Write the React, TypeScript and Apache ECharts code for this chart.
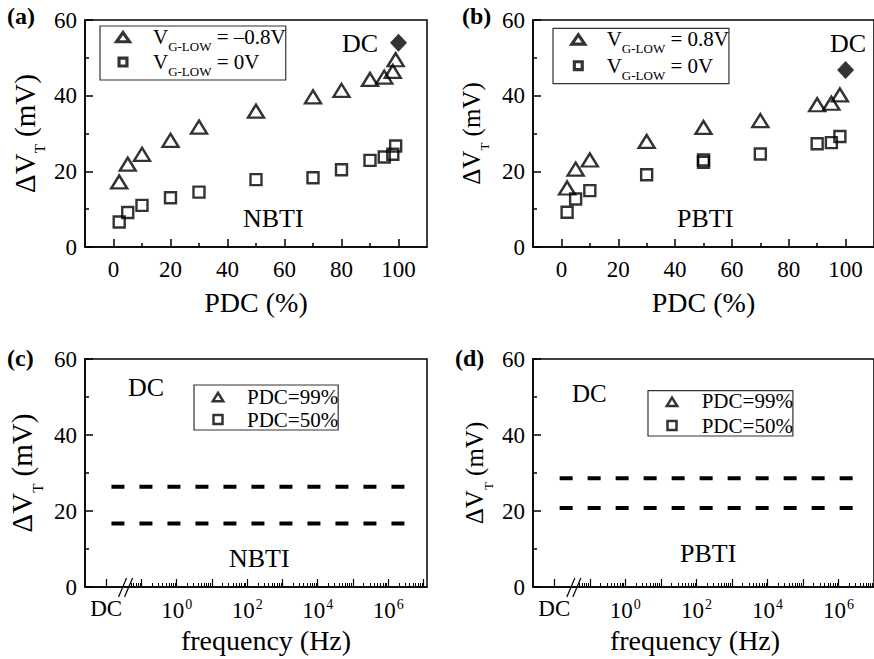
import React, { useEffect, useRef } from 'react';
import * as echarts from 'echarts';

const FONT = "'Liberation Serif', 'Times New Roman', Times, serif";
const TXT = '#000';

// ---- Panel (a): NBTI vs PDC ----
const pdcA = [2, 5, 10, 20, 30, 50, 70, 80, 90, 95, 98, 99];
const nbtiNeg08 = [17.2, 21.9, 24.5, 28.2, 31.7, 35.9, 39.7, 41.4, 44.3, 44.9, 46.4, 49.5];
const nbti0 = [6.6, 9.1, 11.0, 13.0, 14.5, 17.8, 18.3, 20.4, 22.9, 23.8, 24.5, 26.7];
const nbtiDC = [100, 54];

// ---- Panel (b): PBTI vs PDC ----
const pdcBTri = [2, 5, 10, 30, 50, 70, 90, 95, 98];
const pbti08 = [15.6, 20.6, 23.0, 27.9, 31.6, 33.4, 37.6, 38.0, 40.2];
const pdcBSq = [2, 5, 10, 30, 50, 50, 70, 90, 95, 98];
const pbti0 = [9.2, 12.7, 14.9, 19.1, 22.4, 23.0, 24.6, 27.3, 27.6, 29.2];
const pbtiDC = [100, 46.8];

// ---- Panels (c),(d): vs frequency; x = log10(f), DC placed at -2 ----
const freqSpan = [-1.85, 6.5];
const nbtiFreq99 = 26.4;
const nbtiFreq50 = 16.7;
const pbtiFreq99 = 28.6;
const pbtiFreq50 = 20.8;
const breakAt = -1.45;

// ---- tick lists ----
const pdcTicks = [0, 20, 40, 60, 80, 100];
const pdcMinorTicks = [10, 30, 50, 70, 90];
const freqLabelTicks = [-2, 0, 2, 4, 6];
const freqMajorTicks = [-2, -1, 0, 1, 2, 3, 4, 5, 6, 7];

const legendText: Record<string, string> = {
  aTri: '{f|V}{s|G-LOW}{m| = –0.8V}',
  aSq: '{f|V}{s|G-LOW}{m| = 0V}',
  bTri: '{f|V}{s|G-LOW}{m| = 0.8V}',
  bSq: '{f|V}{s|G-LOW}{m| = 0V}',
  cTri: '{f|PDC=99%}',
  cSq: '{f|PDC=50%}',
  dTri: '{f|PDC=99%}',
  dSq: '{f|PDC=50%}',
};

// hollow legend icons drawn as filled outlines (outer shape minus inner hole)
const TRI_ICON = 'path://M9,0L18,13L0,13Z M9,5.27L5.72,10L12.28,10Z';
const SQ_ICON = 'path://M0,0L0,0 M18,13L18,13 M3.75,1.25L14.25,1.25L14.25,11.75L3.75,11.75Z M6.75,4.25L6.75,8.75L11.25,8.75L11.25,4.25Z';
const TRI_ICON_SMALL = 'path://M7.5,0L15,12L0,12Z M7.5,4.72L4.51,9.5L10.49,9.5Z';
const SQ_ICON_SMALL = 'path://M0,0L0,0 M15,12L15,12 M1.75,0.25L13.25,0.25L13.25,11.75L1.75,11.75Z M4.25,2.75L4.25,9.25L10.75,9.25L10.75,2.75Z';

function logMinor(max: number) {
  const out: number[] = [];
  for (let d = -2; d <= 7; d++) {
    for (let k = 2; k <= 9; k++) {
      const u = d + Math.log10(k);
      if (u > -1.35 && u < max) out.push(+u.toFixed(4));
    }
  }
  return out;
}

const axisLine = { show: true, onZero: false, lineStyle: { color: '#000', width: 1.5 } };

function yAxis(gi: number, nameSize: number, subSize: number, lineH: number, nameGap: number) {
  return {
    type: 'value', gridIndex: gi, min: 0, max: 60, interval: 20,
    name: '{d|ΔV}{s|T}{d| (mV)}', nameLocation: 'middle', nameGap,
    nameTextStyle: {
      rich: {
        d: { fontFamily: FONT, fontSize: nameSize, color: TXT, lineHeight: lineH },
        s: { fontFamily: FONT, fontSize: subSize, color: TXT, lineHeight: subSize, verticalAlign: 'bottom' },
      },
    },
    axisLine,
    axisTick: { show: true, inside: true, length: 8, lineStyle: { color: '#000', width: 1.5 } },
    minorTick: { show: true, splitNumber: 2, length: 4, lineStyle: { color: '#000', width: 1.5 } },
    splitLine: { show: false },
    axisLabel: { fontFamily: FONT, fontSize: 23, color: TXT, margin: 8 },
  };
}

function pdcAxes(gi: number) {
  return [
    {
      type: 'value', gridIndex: gi, min: -10, max: 110, position: 'bottom',
      name: 'PDC (%)', nameLocation: 'middle', nameGap: 41,
      nameTextStyle: { fontFamily: FONT, fontSize: 28, color: TXT },
      axisLine,
      axisTick: { show: true, inside: true, length: 8, customValues: pdcTicks, lineStyle: { color: '#000', width: 1.5 } },
      axisLabel: { customValues: pdcTicks, fontFamily: FONT, fontSize: 23, color: TXT, margin: 11 },
      splitLine: { show: false },
    },
    {
      type: 'value', gridIndex: gi, min: -10, max: 110, position: 'bottom', offset: 0,
      axisLine: { show: false },
      axisTick: { show: true, inside: true, length: 4, customValues: pdcMinorTicks, lineStyle: { color: '#000', width: 1.5 } },
      axisLabel: { show: false },
      splitLine: { show: false },
    },
  ];
}

function freqAxes(gi: number, max: number, namePad: number[]) {
  return [
    {
      type: 'value', gridIndex: gi, min: -2.6, max, position: 'bottom',
      name: 'frequency (Hz)', nameLocation: 'middle', nameGap: 39,
      nameTextStyle: { fontFamily: FONT, fontSize: 28, color: TXT, padding: namePad },
      axisLine,
      axisTick: { show: true, inside: true, length: 8, customValues: freqMajorTicks, lineStyle: { color: '#000', width: 1.2 } },
      axisLabel: {
        customValues: freqLabelTicks, margin: 10,
        formatter: (v: number) => (v === -2 ? '{m|DC}' : `{m|10}{s|${v}}`),
        rich: {
          m: { fontFamily: FONT, fontSize: 23, color: TXT },
          s: { fontFamily: FONT, fontSize: 14, color: TXT, padding: [0, 0, 12, 1] },
        },
      },
      splitLine: { show: false },
    },
    {
      type: 'value', gridIndex: gi, min: -2.6, max, position: 'bottom', offset: 0,
      axisLine: { show: false },
      axisTick: { show: true, inside: true, length: 4, customValues: logMinor(max), lineStyle: { color: '#000', width: 1 } },
      axisLabel: { show: false },
      splitLine: { show: false },
    },
  ];
}

function legend(left: number, top: number, names: string[], icons: string[], pad: number[], gap: number, iw: number, ih: number, fs: number, textPad: number, lineH: number) {
  return {
    orient: 'vertical', left, top, padding: pad, itemGap: gap, itemWidth: iw, itemHeight: ih,
    borderColor: '#333', borderWidth: 1.2, backgroundColor: '#fff', selectedMode: false,
    data: [
      { name: names[0], icon: icons[0], itemStyle: { color: '#000', borderWidth: 0 } },
      { name: names[1], icon: icons[1], itemStyle: { color: '#000', borderWidth: 0 } },
    ],
    formatter: (n: string) => legendText[n],
    textStyle: {
      rich: {
        f: { fontFamily: FONT, fontSize: fs, color: TXT, padding: [0, 0, 0, textPad], lineHeight: lineH },
        m: { fontFamily: FONT, fontSize: fs, color: TXT, lineHeight: lineH },
        s: { fontFamily: FONT, fontSize: 13, color: TXT, lineHeight: 14, verticalAlign: 'bottom' },
      },
    },
  };
}

const hollow = { color: 'transparent', borderColor: '#000', borderWidth: 2.4 };
const zip = (xs: number[], ys: number[]) => xs.map((x, i) => [x, ys[i]]);

function breakSeries(xi: number, yi: number) {
  return {
    type: 'custom', xAxisIndex: xi, yAxisIndex: yi, silent: true, clip: false, z: 10,
    data: [[breakAt, 0]],
    renderItem: (_p: any, api: any) => {
      const p = api.coord([api.value(0), api.value(1)]);
      const mk = (dx: number) => ({
        type: 'line',
        shape: { x1: p[0] + dx - 4, y1: p[1] + 10, x2: p[0] + dx + 4, y2: p[1] - 9 },
        style: { stroke: '#000', lineWidth: 1.2 },
      });
      return { type: 'group', children: [mk(-3), mk(3)] };
    },
  };
}

function dashed(xi: number, yi: number, name: string, y: number) {
  return {
    name, type: 'line', xAxisIndex: xi, yAxisIndex: yi, data: freqSpan.map((x) => [x, y]),
    symbol: 'none', showSymbol: false, silent: true,
    lineStyle: { color: '#000', width: 4, type: [13, 15] },
  };
}

function label(text: string, x: number, y: number, size: number, bold = false) {
  return {
    type: 'text', x, y, silent: true,
    style: { text, fontFamily: FONT, fontSize: size, fontWeight: bold ? 'bold' : 'normal', fill: TXT, align: 'left', verticalAlign: 'middle' },
  };
}

function buildOption() {
  return {
    animation: false,
    backgroundColor: '#fff',
    grid: [
      { left: 85, top: 20, width: 342, height: 227, show: true, borderColor: '#000', borderWidth: 1.5 },
      { left: 533, top: 20, width: 341, height: 227, show: true, borderColor: '#000', borderWidth: 1.5 },
      { left: 85, top: 359, width: 342, height: 228, show: true, borderColor: '#000', borderWidth: 1.5 },
      { left: 533, top: 359, width: 341, height: 228, show: true, borderColor: '#000', borderWidth: 1.5 },
    ],
    xAxis: [
      ...pdcAxes(0),
      ...pdcAxes(1),
      ...freqAxes(2, 7.1, [0, 0, 0, 20]),
      ...freqAxes(3, 7.0, [0, 17, 0, 0]),
    ],
    yAxis: [
      yAxis(0, 29, 15, 44, 38),
      yAxis(1, 25, 13, 40, 42),
      yAxis(2, 29, 15, 46, 40),
      yAxis(3, 25, 13, 41, 38),
    ],
    legend: [
      legend(100, 26, ['aTri', 'aSq'], [TRI_ICON, SQ_ICON], [0, 0, 2, 13.5], -1, 19, 14, 21, 15.5, 32),
      legend(553, 28.3, ['bTri', 'bSq'], [TRI_ICON, SQ_ICON], [0, 0, 2, 15.8], 0.4, 19, 14, 21, 13.9, 32),
      legend(194, 385, ['cTri', 'cSq'], [TRI_ICON_SMALL, SQ_ICON_SMALL], [1, 0, 0, 16.5], 2, 15, 12, 21, 16.5, 24),
      legend(648, 390.7, ['dTri', 'dSq'], [TRI_ICON_SMALL, SQ_ICON_SMALL], [0, 0, 0, 16.5], 3.3, 15, 12, 21, 17.2, 24),
    ],
    series: [
      { name: 'aTri', type: 'scatter', xAxisIndex: 0, yAxisIndex: 0, data: zip(pdcA, nbtiNeg08), symbol: 'triangle', symbolSize: [16, 13], itemStyle: hollow },
      { name: 'aSq', type: 'scatter', xAxisIndex: 0, yAxisIndex: 0, data: zip(pdcA, nbti0), symbol: 'rect', symbolSize: 11, itemStyle: hollow },
      { name: 'aDC', type: 'scatter', xAxisIndex: 0, yAxisIndex: 0, data: [nbtiDC], symbol: 'diamond', symbolSize: [17, 18], itemStyle: { color: '#000' } },
      { name: 'bTri', type: 'scatter', xAxisIndex: 2, yAxisIndex: 1, data: zip(pdcBTri, pbti08), symbol: 'triangle', symbolSize: [16, 13], itemStyle: hollow },
      { name: 'bSq', type: 'scatter', xAxisIndex: 2, yAxisIndex: 1, data: zip(pdcBSq, pbti0), symbol: 'rect', symbolSize: 11, itemStyle: hollow },
      { name: 'bDC', type: 'scatter', xAxisIndex: 2, yAxisIndex: 1, data: [pbtiDC], symbol: 'diamond', symbolSize: [17, 18], itemStyle: { color: '#000' } },
      { name: 'cTri', type: 'scatter', xAxisIndex: 4, yAxisIndex: 2, data: [], symbol: 'triangle', itemStyle: hollow },
      { name: 'cSq', type: 'scatter', xAxisIndex: 4, yAxisIndex: 2, data: [], symbol: 'rect', itemStyle: hollow },
      dashed(4, 2, 'c99', nbtiFreq99),
      dashed(4, 2, 'c50', nbtiFreq50),
      breakSeries(4, 2),
      { name: 'dTri', type: 'scatter', xAxisIndex: 6, yAxisIndex: 3, data: [], symbol: 'triangle', itemStyle: hollow },
      { name: 'dSq', type: 'scatter', xAxisIndex: 6, yAxisIndex: 3, data: [], symbol: 'rect', itemStyle: hollow },
      dashed(6, 3, 'd99', pbtiFreq99),
      dashed(6, 3, 'd50', pbtiFreq50),
      breakSeries(6, 3),
    ],
    graphic: [
      label('(a)', 7, 16, 24, true),
      label('(b)', 462, 16, 24, true),
      label('(c)', 7, 358, 24, true),
      label('(d)', 455, 358, 24, true),
      label('DC', 342, 43, 26),
      label('NBTI', 243, 218, 26),
      label('DC', 830, 43, 26),
      label('PBTI', 677, 218, 26),
      label('DC', 128, 387, 26),
      label('NBTI', 229, 558, 26),
      label('DC', 572, 393, 25),
      label('PBTI', 680, 553, 26),
    ],
  };
}

export default function App() {
  const ref = useRef<HTMLDivElement>(null);
  useEffect(() => {
    if (!ref.current) return;
    const chart = echarts.init(ref.current, null, { renderer: 'svg' });
    chart.setOption(buildOption() as any);
    return () => chart.dispose();
  }, []);
  return (
    <div
      ref={ref}
      style={{ position: 'fixed', left: 0, top: 0, width: 874, height: 659, background: '#fff' }}
    />
  );
}
